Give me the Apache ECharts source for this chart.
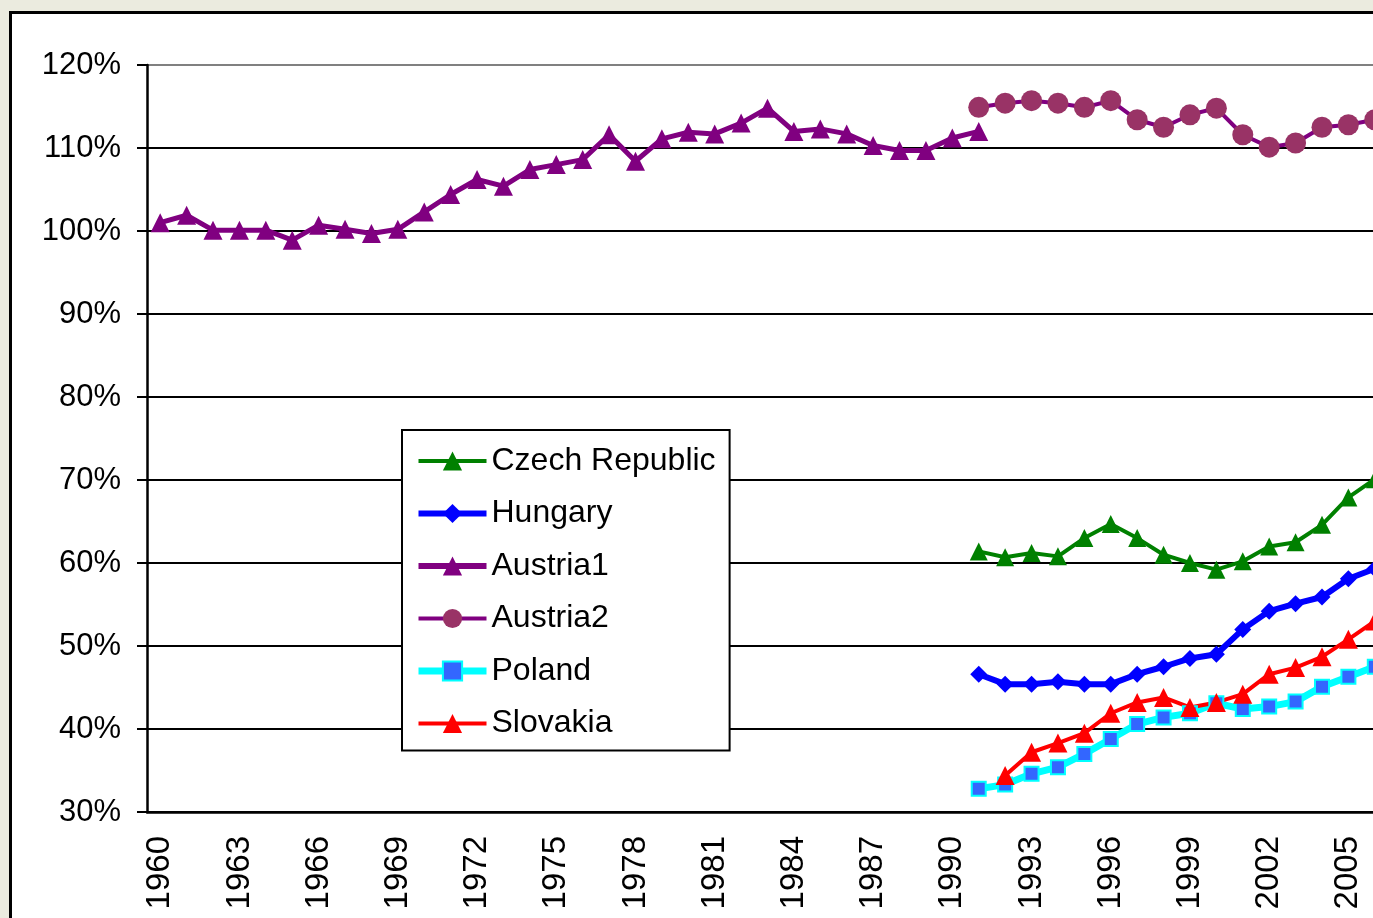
<!DOCTYPE html>
<html>
<head>
<meta charset="utf-8">
<script src="https://cdn.jsdelivr.net/npm/echarts@6/dist/echarts.min.js"></script>
<style>
  html, body { margin: 0; padding: 0; width: 1373px; height: 918px; overflow: hidden; background: #ebebdf; }
  #chart { position: absolute; left: 9px; top: 11px; width: 1420px; height: 960px; border: 3px solid #000; background: #fff; }
</style>
</head>
<body>
<div id="chart"></div>
<script>
	var years = [];
	for (var y = 1960; y <= 2006; y++) { years.push(String(y)); }

	// values in %, each list starts at its own first year
	var austria1 = [101.0, 101.9, 100.1, 100.1, 100.1, 98.9, 100.7, 100.2, 99.7, 100.2,
		102.3, 104.4, 106.2, 105.4, 107.4, 108.0, 108.6, 111.6, 108.4, 111.1,
		111.9, 111.7, 113.0, 114.8, 112.0, 112.3, 111.7, 110.3, 109.7, 109.7,
		111.2, 112.0];
	var austria1Start = 1960;
	var austria2 = [114.9, 115.4, 115.7, 115.4, 114.9, 115.7, 113.4, 112.5, 114.0, 114.8,
		111.6, 110.1, 110.6, 112.5, 112.8, 113.4];
	var austria2Start = 1991;
	var czech = [61.4, 60.7, 61.2, 60.8, 63.0, 64.7, 63.0, 61.0, 60.0, 59.2,
		60.2, 62.0, 62.5, 64.6, 67.9, 70.1];
	var czechStart = 1991;
	var hungary = [46.6, 45.4, 45.4, 45.7, 45.4, 45.4, 46.6, 47.5, 48.5, 49.0,
		52.0, 54.2, 55.1, 55.9, 58.1, 59.3];
	var hungaryStart = 1991;
	var poland = [32.8, 33.3, 34.6, 35.4, 37.0, 38.8, 40.6, 41.4, 41.9, 43.1,
		42.4, 42.7, 43.3, 45.1, 46.3, 47.5];
	var polandStart = 1991;
	var slovakia = [34.4, 37.2, 38.3, 39.5, 41.9, 43.2, 43.8, 42.6, 43.2, 44.2,
		46.6, 47.4, 48.7, 50.8, 53.0];
	var slovakiaStart = 1992;

	function pad(vals, start) {
		var out = [];
		for (var i = 0; i < years.length; i++) {
			var k = +years[i] - start;
			out.push(k >= 0 && k < vals.length ? vals[k] : null);
		}
		return out;
	}

	var font = 'Liberation Sans, Arial, sans-serif';
	var gridColors = ['#000', '#000', '#000', '#000', '#000', '#000', '#000', '#000', '#000', '#808080'];

	var myChart = echarts.init(document.getElementById('chart'));
	var option = {
		animation: false,
		textStyle: { fontFamily: font },
		grid: { left: 135, top: 51, width: 1241, height: 747 },
		legend: {
			orient: 'vertical',
			left: 390,
			top: 416,
			backgroundColor: '#fff',
			borderColor: '#000',
			borderWidth: 2,
			padding: [15, 14, 11, 13],
			itemWidth: 68,
			itemHeight: 24,
			itemGap: 20.5,
			textStyle: { fontSize: 32, color: '#000', fontFamily: font },
			data: [
				{ name: 'Czech Republic', lineStyle: { width: 4 } },
				{ name: 'Hungary', lineStyle: { width: 6 } },
				{ name: 'Austria1', lineStyle: { width: 6 } },
				{ name: 'Austria2', lineStyle: { width: 4 } },
				{ name: 'Poland', lineStyle: { width: 7 } },
				{ name: 'Slovakia', lineStyle: { width: 4 } }
			]
		},
		xAxis: {
			type: 'category',
			data: years,
			boundaryGap: true,
			axisLine: { lineStyle: { color: '#000', width: 2.5 } },
			axisTick: { interval: 0, length: 9, lineStyle: { color: '#000', width: 2 } },
			axisLabel: { interval: 2, rotate: 90, fontSize: 33, color: '#000', margin: 24, fontFamily: font },
			splitLine: { show: false }
		},
		yAxis: {
			type: 'value',
			min: 30,
			max: 120,
			interval: 10,
			axisLine: { show: true, lineStyle: { color: '#000', width: 2.5 } },
			axisTick: { show: true, length: 10, lineStyle: { color: '#000', width: 2 } },
			axisLabel: { formatter: '{value}%', fontSize: 31, color: '#000', margin: 26, fontFamily: font },
			splitLine: { lineStyle: { color: gridColors, width: 2 } }
		},
		series: [
			{
				name: 'Czech Republic', type: 'line', data: pad(czech, czechStart),
				symbol: 'triangle', symbolSize: 18, showAllSymbol: true,
				lineStyle: { color: '#008000', width: 4 },
				itemStyle: { color: '#008000' }
			},
			{
				name: 'Hungary', type: 'line', data: pad(hungary, hungaryStart),
				symbol: 'diamond', symbolSize: 17, showAllSymbol: true,
				lineStyle: { color: '#0000ff', width: 6 },
				itemStyle: { color: '#0000ff' }
			},
			{
				name: 'Austria1', type: 'line', data: pad(austria1, austria1Start),
				symbol: 'triangle', symbolSize: 19, showAllSymbol: true,
				lineStyle: { color: '#800080', width: 5 },
				itemStyle: { color: '#800080' }
			},
			{
				name: 'Austria2', type: 'line', data: pad(austria2, austria2Start),
				symbol: 'circle', symbolSize: 21, showAllSymbol: true,
				lineStyle: { color: '#800080', width: 4 },
				itemStyle: { color: '#993366' }
			},
			{
				name: 'Poland', type: 'line', data: pad(poland, polandStart),
				symbol: 'rect', symbolSize: 14, showAllSymbol: true,
				lineStyle: { color: '#00ffff', width: 7 },
				itemStyle: { color: '#3366ff', borderColor: '#00ffff', borderWidth: 2 }
			},
			{
				name: 'Slovakia', type: 'line', data: pad(slovakia, slovakiaStart),
				symbol: 'triangle', symbolSize: 19, showAllSymbol: true,
				lineStyle: { color: '#ff0000', width: 4 },
				itemStyle: { color: '#ff0000' }
			}
		]
	};
	myChart.setOption(option);
</script>
</body>
</html>
